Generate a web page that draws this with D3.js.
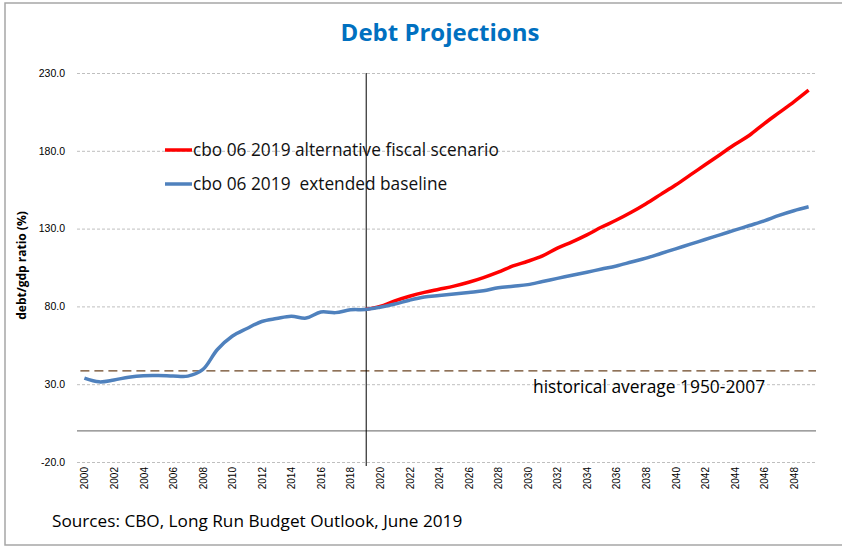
<!DOCTYPE html>
<html>
<head>
<meta charset="utf-8">
<script src="https://cdn.jsdelivr.net/npm/d3@7/dist/d3.min.js"></script>
<style>
  body { margin: 0; background: #fff; }
  svg { display: block; }
</style>
</head>
<body>
<div id="chart"></div>
<script>
// categories: one per year on the x axis
const firstYear = 2000;
const lastYear = 2049;
const years = d3.range(firstYear, lastYear + 1);
const yearLabels = years.filter(y => y % 2 === 0);

// cbo 06 2019 extended baseline, 2000-2049 (debt/gdp %)
const baseline = [
  33.9, 31.5, 32.7, 34.5, 35.5, 35.6, 35.3, 35.2, 39.3, 52.3,
  60.8, 65.8, 70.3, 72.2, 73.7, 72.5, 76.4, 76.0, 77.8, 78.0,
  79.5, 81.5, 84.0, 86.0, 87.0, 88.0, 89.0, 90.0, 92.0, 93.0,
  94.0, 96.0, 98.0, 100.0, 102.0, 104.0, 106.0, 108.5, 111.0, 114.0,
  117.0, 120.0, 123.0, 126.0, 129.0, 132.0, 135.0, 138.5, 141.5, 144.0
];

// cbo 06 2019 alternative fiscal scenario, starts in 2019
const altStartYear = 2019;
const alternative = [
  78.0, 80.0, 83.5, 86.5, 89.0, 91.0, 93.0, 95.5, 98.5, 102.0,
  106.0, 109.0, 112.5, 117.5, 121.5, 126.0, 131.0, 135.5, 140.5, 146.0,
  152.0, 158.0, 164.5, 171.0, 177.5, 184.0, 190.0, 197.5, 204.5, 211.5,
  219.0
];

const yTicks = [-20, 30, 80, 130, 180, 230];
const historicalAverage = 38.6;
const projectionYear = 2019;

const seriesNames = ["cbo 06 2019 alternative fiscal scenario", "cbo 06 2019  extended baseline"];
const seriesColors = ["#ff0000", "#4f81bd"];

const W = 842, H = 546;
const plotLeft = 77, plotRight = 816, plotTop = 73, plotBottom = 462;
const txtFont = "'Open Sans', 'Noto Sans', sans-serif";

const svg = d3.select("#chart").append("svg")
  .attr("width", W)
  .attr("height", H);

// outer frame
svg.append("rect")
  .attr("x", 5).attr("y", 3)
  .attr("width", 845).attr("height", 542)
  .attr("fill", "#fff")
  .attr("stroke", "#a6a6a6")
  .attr("stroke-width", 1.5);

const x = d3.scalePoint()
  .domain(years)
  .range([plotLeft, plotRight])
  .padding(0.5);

const y = d3.scaleLinear()
  .domain([-20, 230])
  .range([plotBottom, plotTop]);

// dashed grid
svg.append("g")
  .attr("transform", `translate(${plotLeft},0)`)
  .call(d3.axisLeft(y).tickValues(yTicks).tickSize(-(plotRight - plotLeft)).tickFormat(""))
  .call(g => g.select(".domain").remove())
  .call(g => g.selectAll("line")
    .attr("stroke", "#bfbfbf")
    .attr("stroke-dasharray", "3,2"));

// y tick labels (plain hyphen for negatives, like the source)
svg.append("g")
  .attr("transform", `translate(${plotLeft},0)`)
  .call(d3.axisLeft(y).tickValues(yTicks).tickSize(0).tickPadding(12).tickFormat(d => d.toFixed(1)))
  .call(g => g.select(".domain").remove())
  .call(g => g.selectAll("text")
    .attr("font-family", "'Liberation Sans', Arial, sans-serif")
    .attr("font-size", "10.5px")
    .attr("fill", "#000"));

// x tick labels (rotated years)
svg.append("g")
  .attr("transform", `translate(0,${plotBottom + 5})`)
  .call(d3.axisBottom(x).tickValues(yearLabels).tickSize(0).tickPadding(0))
  .call(g => g.select(".domain").remove())
  .call(g => g.selectAll("text")
    .attr("font-family", "'Liberation Sans', Arial, sans-serif")
    .attr("font-size", "10px")
    .attr("fill", "#000")
    .attr("text-anchor", "end")
    .attr("transform", "rotate(-90)")
    .attr("x", 0)
    .attr("y", 0)
    .attr("dy", "0.35em"));

// zero line
svg.append("line")
  .attr("x1", plotLeft).attr("x2", plotRight)
  .attr("y1", y(0)).attr("y2", y(0))
  .attr("stroke", "#808080")
  .attr("stroke-width", 1.2);

// historical average
svg.append("line")
  .attr("x1", x(firstYear) - 4).attr("x2", plotRight)
  .attr("y1", y(historicalAverage)).attr("y2", y(historicalAverage))
  .attr("stroke", "#6b4423")
  .attr("stroke-width", 1.3)
  .attr("stroke-dasharray", "9,5");

svg.append("text")
  .attr("x", 533)
  .attr("y", 393)
  .attr("font-family", txtFont)
  .attr("font-size", "17.4px")
  .attr("fill", "#000")
  .text("historical average 1950-2007");

// projection start marker
svg.append("line")
  .attr("x1", x(projectionYear) + 1).attr("x2", x(projectionYear) + 1)
  .attr("y1", plotTop).attr("y2", plotBottom + 4)
  .attr("stroke", "#000")
  .attr("stroke-width", 1);

const line = d3.line()
  .x(d => x(d.year))
  .y(d => y(d.value))
  .curve(d3.curveCatmullRom);

const baseData = baseline.map((v, i) => ({ year: firstYear + i, value: v }));
const altData = alternative.map((v, i) => ({ year: altStartYear + i, value: v }));

svg.append("path")
  .datum(altData)
  .attr("fill", "none")
  .attr("stroke", seriesColors[0])
  .attr("stroke-width", 3.5)
  .attr("stroke-linejoin", "round")
  .attr("d", line);

svg.append("path")
  .datum(baseData)
  .attr("fill", "none")
  .attr("stroke", seriesColors[1])
  .attr("stroke-width", 3.5)
  .attr("stroke-linejoin", "round")
  .attr("d", line);

// legend
const legend = svg.append("g")
  .selectAll("g")
  .data(seriesNames)
  .join("g")
  .attr("transform", (d, i) => `translate(165,${150 + i * 34})`);

legend.append("line")
  .attr("x1", 0).attr("x2", 27)
  .attr("stroke", (d, i) => seriesColors[i])
  .attr("stroke-width", 3.5);

legend.append("text")
  .attr("x", 28)
  .attr("dy", "0.36em")
  .attr("font-family", txtFont)
  .attr("font-size", "17.3px")
  .attr("fill", "#111")
  .style("white-space", "pre")
  .text(d => d);

// title
svg.append("text")
  .attr("x", 440)
  .attr("y", 41)
  .attr("text-anchor", "middle")
  .attr("font-family", txtFont)
  .attr("font-weight", "bold")
  .attr("font-size", "24px")
  .attr("fill", "#0070c0")
  .text("Debt Projections");

// y axis title
svg.append("text")
  .attr("transform", `translate(26,${(plotTop + plotBottom) / 2 - 2}) rotate(-90)`)
  .attr("text-anchor", "middle")
  .attr("font-family", txtFont)
  .attr("font-weight", "bold")
  .attr("font-size", "12px")
  .attr("fill", "#000")
  .text("debt/gdp ratio (%)");

// source note
svg.append("text")
  .attr("x", 52)
  .attr("y", 527)
  .attr("font-family", txtFont)
  .attr("font-size", "17.2px")
  .attr("fill", "#000")
  .text("Sources: CBO, Long Run Budget Outlook, June 2019");
</script>
</body>
</html>
